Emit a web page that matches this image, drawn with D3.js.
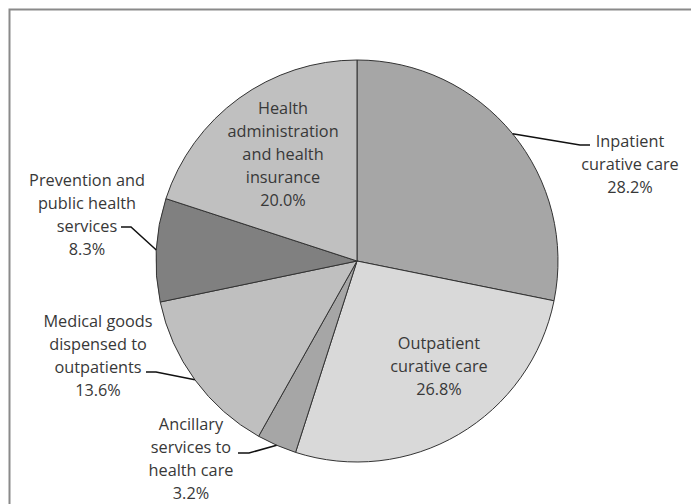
<!DOCTYPE html>
<html>
<head>
<meta charset="utf-8">
<script src="https://cdn.jsdelivr.net/npm/d3@7"></script>
<style>
  html, body { margin: 0; padding: 0; background: #fff; }
  svg { display: block; }
  text { font-family: "Open Sans", "DejaVu Sans", sans-serif; font-size: 16.3px; fill: #383838; }
</style>
</head>
<body>
<svg id="chart" width="691" height="504"></svg>
<script>
// Health expenditure by function, share of total (%)
const categories = [
  "Inpatient curative care",
  "Outpatient curative care",
  "Ancillary services to health care",
  "Medical goods dispensed to outpatients",
  "Prevention and public health services",
  "Health administration and health insurance"
];
const values = [28.2, 26.8, 3.2, 13.6, 8.3, 20.0];
const labelLines = [
  ["Inpatient", "curative care"],
  ["Outpatient", "curative care"],
  ["Ancillary", "services to", "health care"],
  ["Medical goods", "dispensed to", "outpatients"],
  ["Prevention and", "public health", "services"],
  ["Health", "administration", "and health", "insurance"]
];
const fills = ["#a6a6a6", "#d9d9d9", "#a6a6a6", "#bfbfbf", "#808080", "#c0c0c0"];

// label placement: centre x, first line y, and (optional) leader elbow/end points
const labelPos = [
  { x: 630, y: 141, leader: [[580, 145], [590, 145]] },
  { x: 439, y: 343 },
  { x: 191, y: 424, leader: [[249, 453], [238, 453]] },
  { x: 98,  y: 321, leader: [[156, 372], [146, 372]] },
  { x: 87,  y: 180, leader: [[131, 227], [121, 227]] },
  { x: 283, y: 108 }
];
const lineStep = 23;

const svg = d3.select("#chart");
const cx = 357, cy = 261, r = 201;

// chart area frame
svg.append("rect")
  .attr("x", 9.5).attr("y", 9.5)
  .attr("width", 720).attr("height", 620)
  .attr("fill", "none").attr("stroke", "#8a8a8a").attr("stroke-width", 2);

const pie = d3.pie().sort(null).value(d => d)(values);
const arc = d3.arc().innerRadius(0).outerRadius(r);
const edge = d3.arc().innerRadius(r).outerRadius(r);

const g = svg.append("g").attr("transform", `translate(${cx},${cy})`);

g.selectAll("path.slice")
  .data(pie)
  .join("path")
  .attr("class", "slice")
  .attr("d", arc)
  .attr("fill", (d, i) => fills[i])
  .attr("stroke", "#333")
  .attr("stroke-width", 1)
  .attr("stroke-linejoin", "round");

// leader lines from the slice's outer edge midpoint to the label
pie.forEach((d, i) => {
  const lp = labelPos[i];
  if (!lp.leader) return;
  const [ex, ey] = edge.centroid(d);
  const pts = [[cx + ex, cy + ey], ...lp.leader];
  svg.append("path")
    .attr("d", d3.line()(pts))
    .attr("fill", "none")
    .attr("stroke", "#111")
    .attr("stroke-width", 1.5);
});

// labels: category lines followed by the percentage
pie.forEach((d, i) => {
  const lp = labelPos[i];
  const lines = labelLines[i].concat([d3.format(".1f")(values[i]) + "%"]);
  const t = svg.append("text")
    .attr("text-anchor", "middle");
  lines.forEach((s, k) => {
    t.append("tspan")
      .attr("x", lp.x)
      .attr("y", lp.y + k * lineStep)
      .attr("dominant-baseline", "central")
      .text(s);
  });
});
</script>
</body>
</html>
